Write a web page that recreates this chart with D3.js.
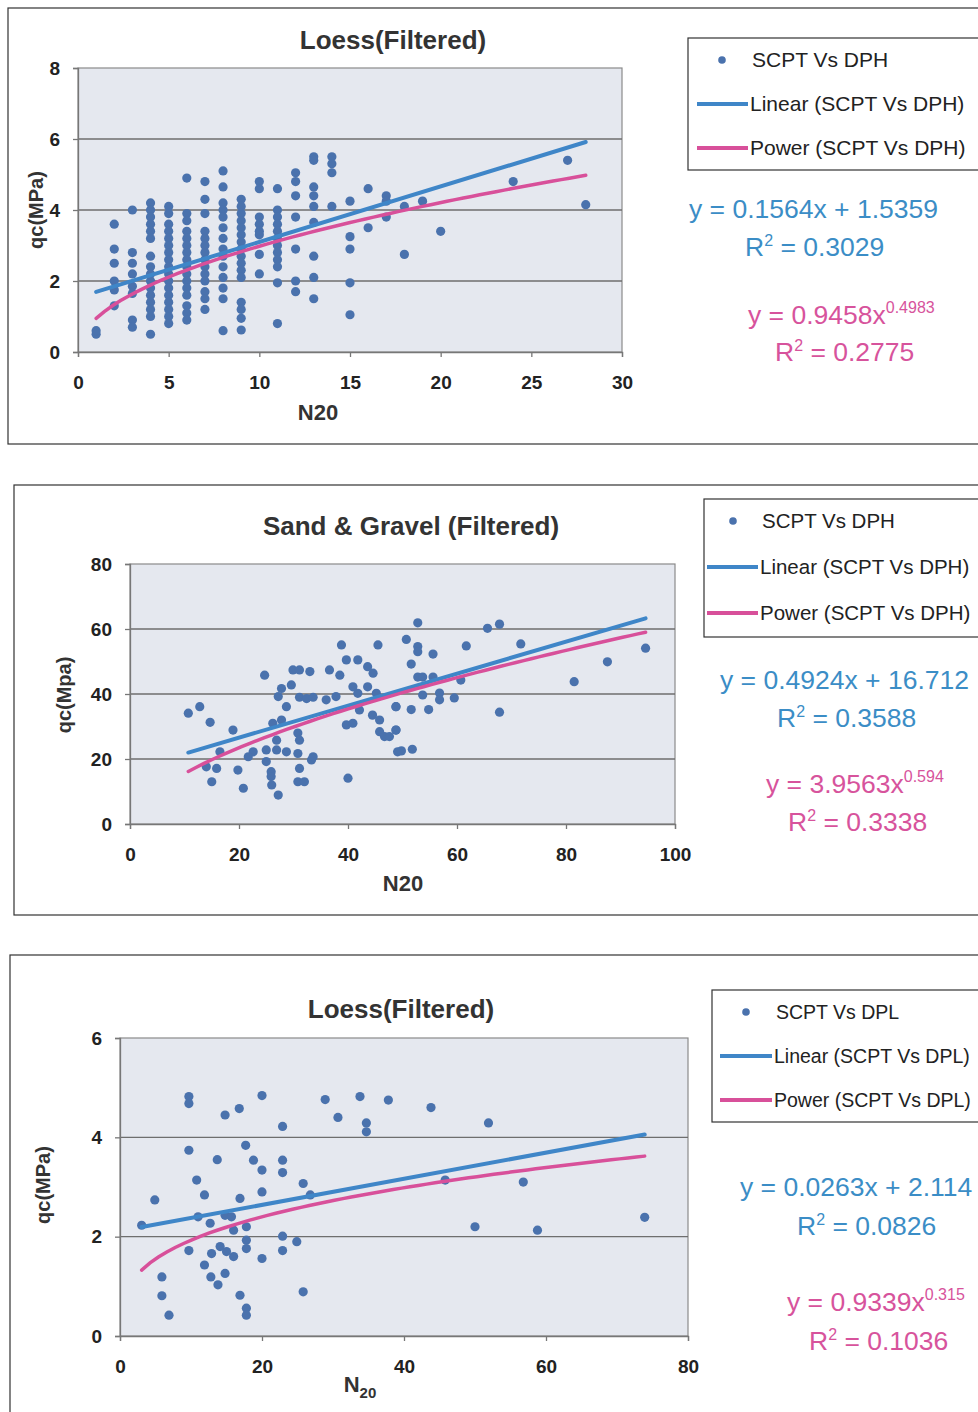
<!DOCTYPE html>
<html>
<head>
<meta charset="utf-8">
<script src="https://cdn.jsdelivr.net/npm/d3@7"></script>
<style>
  body { margin: 0; background: #fff; }
  svg { display: block; font-family: "Liberation Sans", Arial, sans-serif; }
</style>
</head>
<body>
<svg id="chart" width="978" height="1412"></svg>
<script>
// ---- data ----
// panel 1: Loess, SCPT vs DPH (N20 is an integer count)
var loessDphCols = [1, 2, 3, 4, 5, 6, 7, 8, 9, 10, 11, 12, 13, 14, 15, 16, 17, 18, 19, 20, 24, 27, 28];
var loessDphQc = [
  [0.5, 0.6],
  [3.6, 2.9, 2.5, 2.0, 1.75, 1.3],
  [4.0, 2.8, 2.5, 2.2, 1.85, 1.65, 0.9, 0.7],
  [4.2, 4.0, 3.8, 3.6, 3.4, 3.2, 2.7, 2.4, 2.2, 2.0, 1.8, 1.6, 1.4, 1.2, 1.0, 0.5],
  [4.1, 3.9, 3.6, 3.4, 3.2, 3.0, 2.8, 2.6, 2.4, 2.2, 2.0, 1.8, 1.6, 1.4, 1.2, 1.0, 0.8],
  [4.9, 3.9, 3.7, 3.4, 3.2, 3.0, 2.8, 2.6, 2.4, 2.2, 2.0, 1.8, 1.6, 1.3, 1.1, 0.9],
  [4.8, 4.3, 3.9, 3.4, 3.2, 3.0, 2.8, 2.6, 2.4, 2.2, 2.0, 1.7, 1.5, 1.2],
  [5.1, 4.65, 4.2, 4.0, 3.8, 3.5, 3.2, 2.9, 2.7, 2.4, 2.1, 1.8, 1.5, 0.6],
  [4.3, 4.1, 3.9, 3.7, 3.5, 3.3, 3.1, 2.9, 2.7, 2.5, 2.3, 2.1, 1.4, 1.2, 0.95, 0.62],
  [4.8, 4.6, 3.8, 3.6, 3.4, 3.3, 2.75, 2.2],
  [4.6, 4.0, 3.8, 3.6, 3.4, 3.2, 3.0, 2.8, 2.6, 2.4, 1.95, 0.8],
  [5.05, 4.8, 4.4, 3.8, 2.9, 2.0, 1.7],
  [5.5, 5.4, 4.65, 4.4, 4.1, 3.65, 2.7, 2.1, 1.5],
  [5.5, 5.3, 5.05, 4.1],
  [4.25, 3.25, 2.9, 1.95, 1.05],
  [4.6, 3.5],
  [4.4, 4.25, 3.8],
  [4.1, 2.75],
  [4.25],
  [3.4],
  [4.8],
  [5.4],
  [4.15]
];

// panel 2: Sand & Gravel, SCPT vs DPH
var sandN20 = [10.7, 12.8, 14.7, 18.9, 24.7, 27.8, 29.9, 31.1, 33, 29.6, 27.2, 28.7, 31.1, 32.4, 33.6,
  36, 37.8, 36.6, 38.5, 38.8, 39.7, 41.8, 43.6, 44.6, 45.5, 40.9, 41.8, 43.6, 45.2, 42.1, 39.7, 40.9,
  44.5, 45.8, 45.8, 46.7, 48.8, 48.8, 49.1, 40, 26.2, 27.8, 26.9, 30.8, 31.1, 25, 26.9, 28.7, 30.8,
  22.6, 21.7, 16.5, 33.3, 33.6, 14, 15.9, 19.8, 25, 25.9, 25.9, 31.1, 15, 20.8, 26, 27.2, 30.8, 32,
  52.8, 65.6, 67.8, 50.7, 52.8, 52.8, 55.6, 61.7, 71.7, 51.6, 52.8, 53.7, 55.6, 60.7, 53.7, 56.8,
  56.8, 59.5, 48.8, 51.6, 54.8, 67.8, 48.8, 47.6, 49.8, 51.8, 81.5, 87.6, 94.6];
var sandQc = [34.1, 36.1, 31.3, 28.9, 45.8, 41.7, 47.4, 47.4, 46.9, 42.8, 39.2, 36.1, 39, 38.6, 39,
  38.2, 39.2, 47.4, 45.8, 55.1, 50.5, 50.5, 48.4, 46.4, 55.1, 42.2, 40.2, 42.2, 40.2, 35.1, 30.5, 31,
  33.5, 32, 28.4, 26.9, 36.1, 28.9, 22.2, 14.1, 31, 32, 25.8, 28, 25.8, 22.8, 22.8, 22.2, 21.7,
  22.2, 20.7, 22.2, 19.7, 20.7, 17.6, 17.1, 16.6, 19.2, 16.1, 14.6, 17.1, 13, 11, 12, 8.9, 13, 13,
  61.9, 60.2, 61.5, 56.8, 54.6, 53, 52.3, 54.8, 55.4, 49.2, 45.2, 45.2, 45.2, 44.3, 39.7, 40.3,
  38.2, 38.8, 36.1, 35.2, 35.2, 34.4, 28.9, 26.9, 22.5, 23, 43.8, 49.9, 54.1];

// panel 3: Loess, SCPT vs DPL
var dplN20 = [3.05, 4.9, 5.9, 5.9, 6.9, 9.7, 9.7, 9.7, 9.7, 10.8, 11.9, 11, 12.7, 11.9, 12.9, 12.8,
  13.8, 13.7, 14.8, 14.8, 14.8, 14.1, 15, 16, 16, 15.7, 16.8, 16.9, 16.9, 17.7, 17.8, 17.8, 17.8,
  17.8, 17.8, 18.8, 20, 20, 20, 20, 22.9, 22.9, 22.9, 22.9, 22.9, 24.9, 25.8, 25.8, 26.8, 28.9,
  30.7, 33.8, 34.7, 34.7, 37.8, 43.8, 51.9, 45.8, 56.8, 50, 58.8, 73.9];
var dplQc = [2.23, 2.74, 1.19, 0.81, 0.42, 4.82, 4.68, 3.74, 1.72, 3.14, 2.84, 2.4, 2.27, 1.43, 1.66,
  1.19, 1.03, 3.55, 4.45, 2.43, 1.26, 1.8, 1.7, 1.6, 2.13, 2.4, 4.58, 2.77, 0.82, 3.84, 2.2, 1.93,
  1.76, 0.56, 0.42, 3.54, 3.34, 4.84, 2.9, 1.56, 4.22, 3.54, 3.29, 2.01, 1.72, 1.9, 3.07, 0.89, 2.84,
  4.76, 4.4, 4.82, 4.29, 4.11, 4.75, 4.6, 4.29, 3.14, 3.1, 2.2, 2.13, 2.39];

// trendline coefficients as printed on the chart
var linFit = [[0.1564, 1.5359], [0.4924, 16.712], [0.0263, 2.114]];
var powFit = [[0.9458, 0.4983], [3.9563, 0.594], [0.9339, 0.315]];
var r2Lin = ["0.3029", "0.3588", "0.0826"];
var r2Pow = ["0.2775", "0.3338", "0.1036"];
var linText = ["0.1564x + 1.5359", "0.4924x + 16.712", "0.0263x + 2.114"];
var powText = [["0.9458x", "0.4983"], ["3.9563x", "0.594"], ["0.9339x", "0.315"]];

var titles = ["Loess(Filtered)", "Sand & Gravel (Filtered)", "Loess(Filtered)"];
var yTitles = ["qc(MPa)", "qc(Mpa)", "qc(MPa)"];
var seriesNames = ["SCPT Vs DPH", "SCPT Vs DPH", "SCPT Vs DPL"];
var xTickVals = [[0, 5, 10, 15, 20, 25, 30], [0, 20, 40, 60, 80, 100], [0, 20, 40, 60, 80]];
var yTickVals = [[0, 2, 4, 6, 8], [0, 20, 40, 60, 80], [0, 2, 4, 6]];

var dotColor = "#4a72ad", linColor = "#3f86c8", powColor = "#d8509a";
var linTextColor = "#3b8dc6", powTextColor = "#d7539c";

// flatten panel 1 columns into points
var pts1 = [];
loessDphCols.forEach(function (c, i) {
  loessDphQc[i].forEach(function (q) { pts1.push({ x: c, y: q }); });
});
var pts2 = sandN20.map(function (v, i) { return { x: v, y: sandQc[i] }; });
var pts3 = dplN20.map(function (v, i) { return { x: v, y: dplQc[i] }; });

// layout of each panel
var panels = [
  { pts: pts1, frame: [8, 8, 436], plot: [78, 622, 68, 352], xdom: [0, 30], ydom: [0, 8],
    titleXY: [393, 49], xtXY: [318, 420], ytXY: [36, 210], legSize: 21,
    leg: [688, 38, 132], legRows: [60, 104, 148], legMark: 722, legLine: [697, 748], legText: 752,
    lin: [689, 218, 745, 256], pow: [748, 324, 775, 361] },
  { pts: pts2, frame: [14, 485, 430], plot: [130, 675, 564, 824], xdom: [0, 100], ydom: [0, 80],
    titleXY: [411, 535], xtXY: [403, 891], ytXY: [64, 695], legSize: 20.5,
    leg: [704, 499, 138], legRows: [521, 567, 613], legMark: 733, legLine: [707, 758], legText: 762,
    lin: [720, 689, 777, 727], pow: [766, 793, 788, 831] },
  { pts: pts3, frame: [10, 955, 480], plot: [120, 688, 1038, 1336], xdom: [0, 80], ydom: [0, 6],
    titleXY: [401, 1018], xtXY: [360, 1392], ytXY: [43, 1185], sub: true, legSize: 19.5,
    leg: [712, 990, 132], legRows: [1012, 1056, 1100], legMark: 746, legLine: [720, 772], legText: 776,
    lin: [740, 1196, 797, 1235], pow: [787, 1311, 809, 1350] }
];

var svg = d3.select("#chart");

panels.forEach(function (p, k) {
  var g = svg.append("g");
  var L = p.plot[0], R = p.plot[1], T = p.plot[2], B = p.plot[3];
  var x = d3.scaleLinear().domain(p.xdom).range([L, R]);
  var y = d3.scaleLinear().domain(p.ydom).range([B, T]);

  // outer frame (runs off the right edge like the scan)
  g.append("rect").attr("x", p.frame[0]).attr("y", p.frame[1])
    .attr("width", 1100).attr("height", p.frame[2])
    .attr("fill", "none").attr("stroke", "#333").attr("stroke-width", 1.2);

  // plot area
  g.append("rect").attr("x", L).attr("y", T).attr("width", R - L).attr("height", B - T)
    .attr("fill", "#e5e8ef").attr("stroke", "#8a8a8a").attr("stroke-width", 1.2);

  // gridlines
  g.selectAll(".grid").data(yTickVals[k].slice(1, -1)).enter().append("line")
    .attr("x1", L).attr("x2", R)
    .attr("y1", function (d) { return y(d); }).attr("y2", function (d) { return y(d); })
    .attr("stroke", "#6e6e6e").attr("stroke-width", 1.3);

  // axes
  var fmt = d3.format("~g");
  var xa = g.append("g").attr("transform", "translate(0," + B + ")")
    .call(d3.axisBottom(x).tickValues(xTickVals[k]).tickFormat(fmt).tickSize(5).tickPadding(19));
  var ya = g.append("g").attr("transform", "translate(" + L + ",0)")
    .call(d3.axisLeft(y).tickValues(yTickVals[k]).tickFormat(fmt).tickSize(5).tickPadding(13));
  [xa, ya].forEach(function (a) {
    a.selectAll("path, line").attr("stroke", "#777").attr("stroke-width", 1.3);
    a.selectAll("text").attr("font-family", "Liberation Sans, Arial, sans-serif")
      .attr("font-size", 19).attr("font-weight", "bold").attr("fill", "#222");
  });

  // points
  g.selectAll(".pt").data(p.pts).enter().append("circle")
    .attr("cx", function (d) { return x(d.x); })
    .attr("cy", function (d) { return y(d.y); })
    .attr("r", 4.6).attr("fill", dotColor);

  // trendlines over the data range
  var xmin = d3.min(p.pts, function (d) { return d.x; });
  var xmax = d3.max(p.pts, function (d) { return d.x; });
  var a = linFit[k][0], b = linFit[k][1];
  g.append("line")
    .attr("x1", x(xmin)).attr("y1", y(a * xmin + b))
    .attr("x2", x(xmax)).attr("y2", y(a * xmax + b))
    .attr("stroke", linColor).attr("stroke-width", 4).attr("stroke-linecap", "round");
  var c = powFit[k][0], e = powFit[k][1];
  var curve = d3.range(0, 61).map(function (i) {
    var xv = xmin + (xmax - xmin) * i / 60;
    return [x(xv), y(c * Math.pow(xv, e))];
  });
  g.append("path").attr("d", d3.line()(curve))
    .attr("fill", "none").attr("stroke", powColor).attr("stroke-width", 3.5)
    .attr("stroke-linecap", "round");

  // titles
  g.append("text").attr("x", p.titleXY[0]).attr("y", p.titleXY[1])
    .attr("text-anchor", "middle").attr("font-size", 26).attr("font-weight", "bold")
    .attr("fill", "#333").text(titles[k]);
  var xt = g.append("text").attr("x", p.xtXY[0]).attr("y", p.xtXY[1])
    .attr("text-anchor", "middle").attr("font-size", 22).attr("font-weight", "bold")
    .attr("fill", "#333");
  if (p.sub) {
    xt.append("tspan").text("N");
    xt.append("tspan").attr("font-size", 15).attr("dy", 6).text("20");
  } else {
    xt.text("N20");
  }
  g.append("text")
    .attr("transform", "translate(" + p.ytXY[0] + "," + p.ytXY[1] + ") rotate(-90)")
    .attr("text-anchor", "middle").attr("dy", "0.35em")
    .attr("font-size", 20).attr("font-weight", "bold").attr("fill", "#333")
    .text(yTitles[k]);

  // legend
  g.append("rect").attr("x", p.leg[0]).attr("y", p.leg[1])
    .attr("width", 400).attr("height", p.leg[2])
    .attr("fill", "#fff").attr("stroke", "#333").attr("stroke-width", 1.2);
  g.append("circle").attr("cx", p.legMark).attr("cy", p.legRows[0]).attr("r", 3.8)
    .attr("fill", dotColor);
  [linColor, powColor].forEach(function (col, j) {
    g.append("line").attr("x1", p.legLine[0]).attr("x2", p.legLine[1])
      .attr("y1", p.legRows[j + 1]).attr("y2", p.legRows[j + 1])
      .attr("stroke", col).attr("stroke-width", 4);
  });
  var legLabels = [seriesNames[k], "Linear (" + seriesNames[k] + ")", "Power (" + seriesNames[k] + ")"];
  legLabels.forEach(function (t, j) {
    g.append("text").attr("x", j === 0 ? p.legText : p.legLine[1] + 2)
      .attr("y", p.legRows[j]).attr("dy", "0.35em")
      .attr("font-size", p.legSize).attr("fill", "#222").text(t);
  });

  // equations
  g.append("text").attr("x", p.lin[0]).attr("y", p.lin[1]).attr("font-size", 26.5)
    .attr("fill", linTextColor).text("y = " + linText[k]);
  var r1 = g.append("text").attr("x", p.lin[2]).attr("y", p.lin[3]).attr("font-size", 26.5)
    .attr("fill", linTextColor);
  r1.append("tspan").text("R");
  r1.append("tspan").attr("font-size", 16).attr("dy", -10).text("2");
  r1.append("tspan").attr("dy", 10).text(" = " + r2Lin[k]);

  var pe = g.append("text").attr("x", p.pow[0]).attr("y", p.pow[1]).attr("font-size", 26.5)
    .attr("fill", powTextColor);
  pe.append("tspan").text("y = " + powText[k][0]);
  pe.append("tspan").attr("font-size", 16).attr("dy", -11).text(powText[k][1]);
  var r2 = g.append("text").attr("x", p.pow[2]).attr("y", p.pow[3]).attr("font-size", 26.5)
    .attr("fill", powTextColor);
  r2.append("tspan").text("R");
  r2.append("tspan").attr("font-size", 16).attr("dy", -10).text("2");
  r2.append("tspan").attr("dy", 10).text(" = " + r2Pow[k]);
});
</script>
</body>
</html>
